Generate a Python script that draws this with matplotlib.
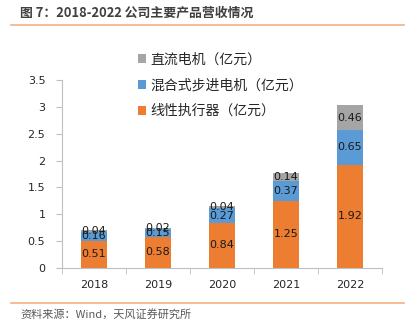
import numpy as np
import matplotlib
matplotlib.use('Agg')
import matplotlib.pyplot as plt
from matplotlib.lines import Line2D

plt.rcParams['font.family'] = ['Noto Sans CJK SC', 'DejaVu Sans']

# Data
years = ['2018', '2019', '2020', '2021', '2022']
actuator = [0.51, 0.58, 0.84, 1.25, 1.92]   # 线性执行器
stepper = [0.16, 0.15, 0.27, 0.37, 0.65]    # 混合式步进电机
dc_motor = [0.04, 0.02, 0.04, 0.14, 0.46]   # 直流电机
series_names = ['线性执行器（亿元）', '混合式步进电机（亿元）', '直流电机（亿元）']
colors = ['#ED7D31', '#5B9BD5', '#A5A5A5']
yticks = [0, 0.5, 1, 1.5, 2, 2.5, 3, 3.5]
ytick_labels = ['0', '0.5', '1', '1.5', '2', '2.5', '3', '3.5']

W, H = 411, 325
fig = plt.figure(figsize=(W / 100, H / 100), dpi=100)
ax = fig.add_axes([62 / W, 1 - 268 / H, 320 / W, 188 / H])

x = np.arange(len(years))
bottom = np.zeros(len(years))
handles = []
for vals, col, name in zip([actuator, stepper, dc_motor], colors, series_names):
    bars = ax.bar(x, vals, width=0.4, bottom=bottom, color=col, label=name)
    for xi, b, v in zip(x, bottom, vals):
        ax.text(xi, b + v / 2, f'{v:.2f}', ha='center', va='center',
                fontsize=8, color='#1a1a1a', family='DejaVu Sans')
    bottom = bottom + np.array(vals)
    handles.append(bars)

ax.set_xlim(-0.5, len(years) - 0.5)
ax.set_ylim(0, 3.5)
ax.set_yticks(yticks)
ax.set_yticklabels(ytick_labels, fontsize=8, family='DejaVu Sans', color='#262626')
ax.set_xticks(x)
ax.set_xticklabels(years, fontsize=8, family='DejaVu Sans', color='#262626')
ax.set_xticks(np.arange(len(years) + 1) - 0.5, minor=True)
ax.tick_params(axis='x', which='major', length=0, pad=9)
ax.tick_params(axis='x', which='minor', length=4, color='#bfbfbf')
ax.tick_params(axis='y', length=4, color='#bfbfbf', pad=8)
for s in ['top', 'right']:
    ax.spines[s].set_visible(False)
for s in ['left', 'bottom']:
    ax.spines[s].set_color('#bfbfbf')
    ax.spines[s].set_linewidth(0.8)

# legend in reverse order, gray on top
leg = ax.legend(handles[::-1], series_names[::-1], loc='upper left',
                bbox_to_anchor=(125 / W, 1 - 40 / H), bbox_transform=fig.transFigure,
                frameon=False, fontsize=10, handlelength=0.6, handleheight=0.6,
                handletextpad=0.35, labelspacing=0.85)
for t in leg.get_texts():
    t.set_color('#262626')

# title and source
fig.text(20 / W, 1 - 13 / H, '图 7：2018-2022 公司主要产品营收情况', fontsize=9.3,
         fontweight='bold', color='#404040', va='center', ha='left')
fig.add_artist(Line2D([11 / W, 404 / W], [1 - 25 / H, 1 - 25 / H],
                      color='#F4B183', lw=1.2, transform=fig.transFigure))
fig.add_artist(Line2D([11 / W, 404 / W], [1 - 303 / H, 1 - 303 / H],
                      color='#F4B183', lw=1.2, transform=fig.transFigure))
fig.text(20 / W, 1 - 314 / H, '资料来源：Wind，天风证券研究所', fontsize=8,
         color='#595959', va='center', ha='left')

fig.savefig('out.png', dpi=100)
